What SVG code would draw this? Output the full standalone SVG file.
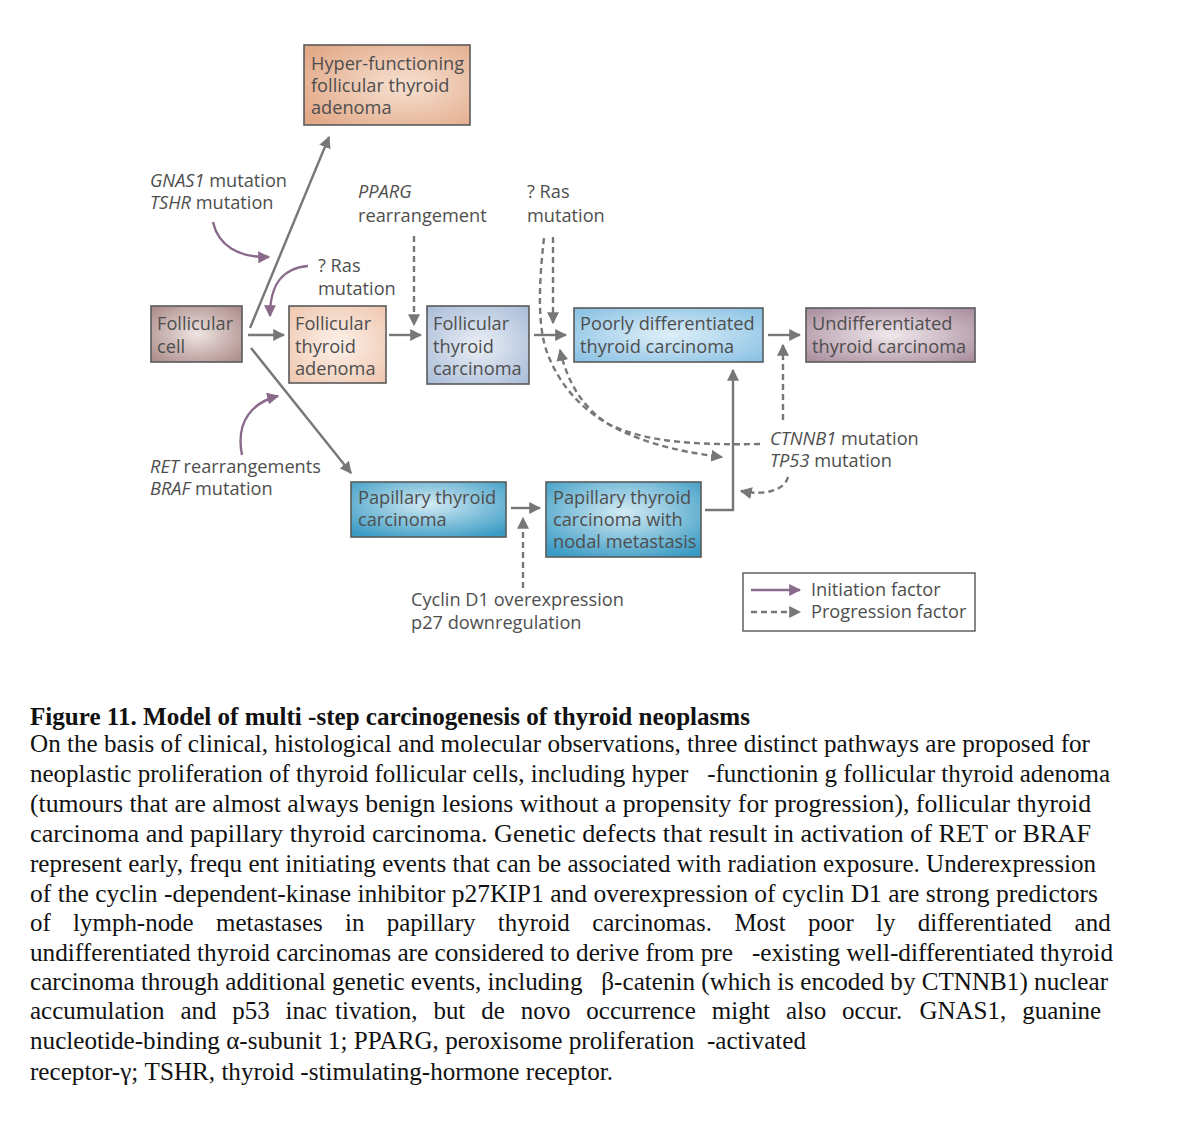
<svg xmlns="http://www.w3.org/2000/svg" width="1197" height="1142" viewBox="0 0 1197 1142">
<style>
.box{stroke:#5a5a5a;stroke-width:1.6}
.lbl{font-family:"Open Sans","Liberation Sans",sans-serif;font-size:18.2px;fill:#4e4e4e}
.it{font-style:italic}
.g{fill:none;stroke:#777;stroke-width:2.4}
.d{fill:none;stroke:#777;stroke-width:2.4;stroke-dasharray:6,4}
.p{fill:none;stroke:#8a6a8a;stroke-width:2.4}
.cap{font-family:"Liberation Serif","Times New Roman",serif;font-size:26px;fill:#111;white-space:pre}
</style>
<defs>
<marker id="ag" viewBox="0 0 10 10" refX="9" refY="5" markerWidth="5" markerHeight="5" orient="auto" markerUnits="strokeWidth"><path d="M0,0L10,5L0,10z" fill="#777"/></marker>
<marker id="ap" viewBox="0 0 10 10" refX="9" refY="5" markerWidth="5" markerHeight="5" orient="auto" markerUnits="strokeWidth"><path d="M0,0L10,5L0,10z" fill="#8a6a8a"/></marker>
<radialGradient id="gHyper" cx="0.6" cy="0.5" r="0.7"><stop offset="0" stop-color="#f7e1d2"/><stop offset="1" stop-color="#e2a988"/></radialGradient>
<radialGradient id="gCell" cx="0.5" cy="0.5" r="0.7"><stop offset="0" stop-color="#eee4e2"/><stop offset="1" stop-color="#a98886"/></radialGradient>
<radialGradient id="gAden" cx="0.5" cy="0.5" r="0.7"><stop offset="0" stop-color="#fcf1ea"/><stop offset="1" stop-color="#efc6ae"/></radialGradient>
<radialGradient id="gCarc" cx="0.5" cy="0.5" r="0.7"><stop offset="0" stop-color="#eaeff6"/><stop offset="1" stop-color="#a8bbd7"/></radialGradient>
<radialGradient id="gPoor" cx="0.5" cy="0.5" r="0.7"><stop offset="0" stop-color="#deeff8"/><stop offset="1" stop-color="#86bfe3"/></radialGradient>
<radialGradient id="gUnd" cx="0.5" cy="0.5" r="0.7"><stop offset="0" stop-color="#f0e8ec"/><stop offset="1" stop-color="#a78a9b"/></radialGradient>
<radialGradient id="gPap" cx="0.5" cy="0.4" r="0.7"><stop offset="0" stop-color="#d4ebf4"/><stop offset="1" stop-color="#3a9bc4"/></radialGradient>
</defs>
<rect width="1197" height="1142" fill="#fff"/>

<g id="connectors">
<path class="g" d="M250,328 L329,137" marker-end="url(#ag)"/>
<path class="g" d="M248,335 L284,335" marker-end="url(#ag)"/>
<path class="g" d="M251,348 L351,473" marker-end="url(#ag)"/>
<path class="g" d="M389,335 L421,335" marker-end="url(#ag)"/>
<path class="g" d="M534,335 L566,335" marker-end="url(#ag)"/>
<path class="g" d="M768,335 L800,335" marker-end="url(#ag)"/>
<path class="g" d="M511,508 L540,508" marker-end="url(#ag)"/>
<path class="g" d="M705,510 L733,510 L733,370" marker-end="url(#ag)"/>
<path class="p" d="M213,222 C218,245 238,258 269,257" marker-end="url(#ap)"/>
<path class="p" d="M308,266 C284,268 270,282 270,316" marker-end="url(#ap)"/>
<path class="p" d="M242,455 C235,420 254,402 278,396" marker-end="url(#ap)"/>
<path class="d" d="M414,236 L414,325" marker-end="url(#ag)"/>
<path class="d" d="M553,237 L553,323" marker-end="url(#ag)"/>
<path class="d" d="M544,238 C538,290 538,330 548,355 C570,410 620,445 722,457" marker-end="url(#ag)"/>
<path class="d" d="M760,444 C700,445 650,443 610,425 C585,410 568,385 560,350" marker-end="url(#ag)"/>
<path class="d" d="M783,420 L783,345" marker-end="url(#ag)"/>
<path class="d" d="M788,477 C785,490 765,496 741,491" marker-end="url(#ag)"/>
<path class="d" d="M523,588 L523,518" marker-end="url(#ag)"/>
</g>

<g id="n-hyper"><rect class="box" x="304" y="45" width="166" height="80" fill="url(#gHyper)"/>
<text class="lbl" x="311" y="70">Hyper-functioning</text><text class="lbl" x="311" y="92">follicular thyroid</text><text class="lbl" x="311" y="114">adenoma</text></g>
<g id="n-cell"><rect class="box" x="151" y="306" width="91" height="56" fill="url(#gCell)"/>
<text class="lbl" x="157" y="330">Follicular</text><text class="lbl" x="157" y="353">cell</text></g>
<g id="n-adenoma"><rect class="box" x="289" y="306" width="97" height="77" fill="url(#gAden)"/>
<text class="lbl" x="295" y="330">Follicular</text><text class="lbl" x="295" y="353">thyroid</text><text class="lbl" x="295" y="375">adenoma</text></g>
<g id="n-carcinoma"><rect class="box" x="427" y="306" width="102" height="78" fill="url(#gCarc)"/>
<text class="lbl" x="433" y="330">Follicular</text><text class="lbl" x="433" y="353">thyroid</text><text class="lbl" x="433" y="375">carcinoma</text></g>
<g id="n-poorly"><rect class="box" x="574" y="308" width="189" height="54" fill="url(#gPoor)"/>
<text class="lbl" x="580" y="330">Poorly differentiated</text><text class="lbl" x="580" y="353">thyroid carcinoma</text></g>
<g id="n-undiff"><rect class="box" x="806" y="308" width="169" height="54" fill="url(#gUnd)"/>
<text class="lbl" x="812" y="330">Undifferentiated</text><text class="lbl" x="812" y="353">thyroid carcinoma</text></g>
<g id="n-papillary"><rect class="box" x="351" y="482" width="155" height="55" fill="url(#gPap)"/>
<text class="lbl" x="358" y="504">Papillary thyroid</text><text class="lbl" x="358" y="526">carcinoma</text></g>
<g id="n-nodal"><rect class="box" x="546" y="482" width="155" height="75" fill="url(#gPap)"/>
<text class="lbl" x="553" y="504">Papillary thyroid</text><text class="lbl" x="553" y="526">carcinoma with</text><text class="lbl" x="553" y="548">nodal metastasis</text></g>

<g id="labels">
<text class="lbl" x="150" y="187"><tspan class="it">GNAS1</tspan> mutation</text>
<text class="lbl" x="150" y="209"><tspan class="it">TSHR</tspan> mutation</text>
<text class="lbl it" x="358" y="198">PPARG</text>
<text class="lbl" x="358" y="222">rearrangement</text>
<text class="lbl" x="527" y="198">? Ras</text>
<text class="lbl" x="527" y="222">mutation</text>
<text class="lbl" x="318" y="272">? Ras</text>
<text class="lbl" x="318" y="295">mutation</text>
<text class="lbl" x="150" y="473"><tspan class="it">RET</tspan> rearrangements</text>
<text class="lbl" x="150" y="495"><tspan class="it">BRAF</tspan> mutation</text>
<text class="lbl" x="770" y="445"><tspan class="it">CTNNB1</tspan> mutation</text>
<text class="lbl" x="770" y="467"><tspan class="it">TP53</tspan> mutation</text>
<text class="lbl" x="411" y="606">Cyclin D1 overexpression</text>
<text class="lbl" x="411" y="629">p27 downregulation</text>
</g>

<g id="legend">
<rect x="743" y="573" width="232" height="58" fill="#fff" stroke="#555" stroke-width="1.4"/>
<path class="p" d="M751,590 L800,590" marker-end="url(#ap)"/>
<path class="d" d="M751,612 L800,612" marker-end="url(#ag)"/>
<text class="lbl" x="811" y="596">Initiation factor</text>
<text class="lbl" x="811" y="618">Progression factor</text>
</g>

<g id="caption">
<text class="cap" x="30" y="725" font-weight="bold" textLength="720" lengthAdjust="spacingAndGlyphs">Figure 11. Model of multi -step carcinogenesis of thyroid neoplasms</text>
<text class="cap" x="30" y="752" textLength="1060" lengthAdjust="spacingAndGlyphs">On the basis of clinical, histological and molecular observations, three distinct pathways are proposed for</text>
<text class="cap" x="30" y="782" textLength="1080" lengthAdjust="spacingAndGlyphs">neoplastic proliferation of thyroid follicular cells, including hyper   -functionin g follicular thyroid adenoma</text>
<text class="cap" x="30" y="812" textLength="1061" lengthAdjust="spacingAndGlyphs">(tumours that are almost always benign lesions without a propensity for progression), follicular thyroid</text>
<text class="cap" x="30" y="842" textLength="1061" lengthAdjust="spacingAndGlyphs">carcinoma and papillary thyroid carcinoma. Genetic defects that result in activation of RET or BRAF</text>
<text class="cap" x="30" y="872" textLength="1066" lengthAdjust="spacingAndGlyphs">represent early, frequ ent initiating events that can be associated with radiation exposure. Underexpression</text>
<text class="cap" x="30" y="902" textLength="1068" lengthAdjust="spacingAndGlyphs">of the cyclin -dependent-kinase inhibitor p27KIP1 and overexpression of cyclin D1 are strong predictors</text>
<text class="cap" transform="scale(0.96,1)" y="931.5"><tspan x="31.25">of</tspan> <tspan x="76.15">lymph-node</tspan> <tspan x="225">metastases</tspan> <tspan x="359.5">in</tspan> <tspan x="402.9">papillary</tspan> <tspan x="518.5">thyroid</tspan> <tspan x="616.9">carcinomas.</tspan> <tspan x="765">Most</tspan> <tspan x="841.7">poor</tspan> <tspan x="912.6">ly</tspan> <tspan x="956">differentiated</tspan> <tspan x="1119.4">and</tspan></text>
<text class="cap" x="30" y="961" textLength="1083" lengthAdjust="spacingAndGlyphs">undifferentiated thyroid carcinomas are considered to derive from pre   -existing well-differentiated thyroid</text>
<text class="cap" x="30" y="990" textLength="1078" lengthAdjust="spacingAndGlyphs">carcinoma through additional genetic events, including   β-catenin (which is encoded by CTNNB1) nuclear</text>
<text class="cap" transform="scale(0.96,1)" y="1019.5"><tspan x="31.25">accumulation</tspan> <tspan x="187.9">and</tspan> <tspan x="242">p53</tspan> <tspan x="297.4">inac</tspan> <tspan x="349">tivation,</tspan> <tspan x="451.5">but</tspan> <tspan x="501.3">de</tspan> <tspan x="542.4">novo</tspan> <tspan x="610.8">occurrence</tspan> <tspan x="741.5">might</tspan> <tspan x="818.8">also</tspan> <tspan x="877.1">occur.</tspan> <tspan x="957.9">GNAS1,</tspan> <tspan x="1064.8">guanine</tspan></text>
<text class="cap" x="30" y="1049" textLength="776" lengthAdjust="spacingAndGlyphs">nucleotide-binding α-subunit 1; PPARG, peroxisome proliferation  -activated</text>
<text class="cap" x="30" y="1080" textLength="583" lengthAdjust="spacingAndGlyphs">receptor-γ; TSHR, thyroid -stimulating-hormone receptor.</text>
</g>
</svg>
